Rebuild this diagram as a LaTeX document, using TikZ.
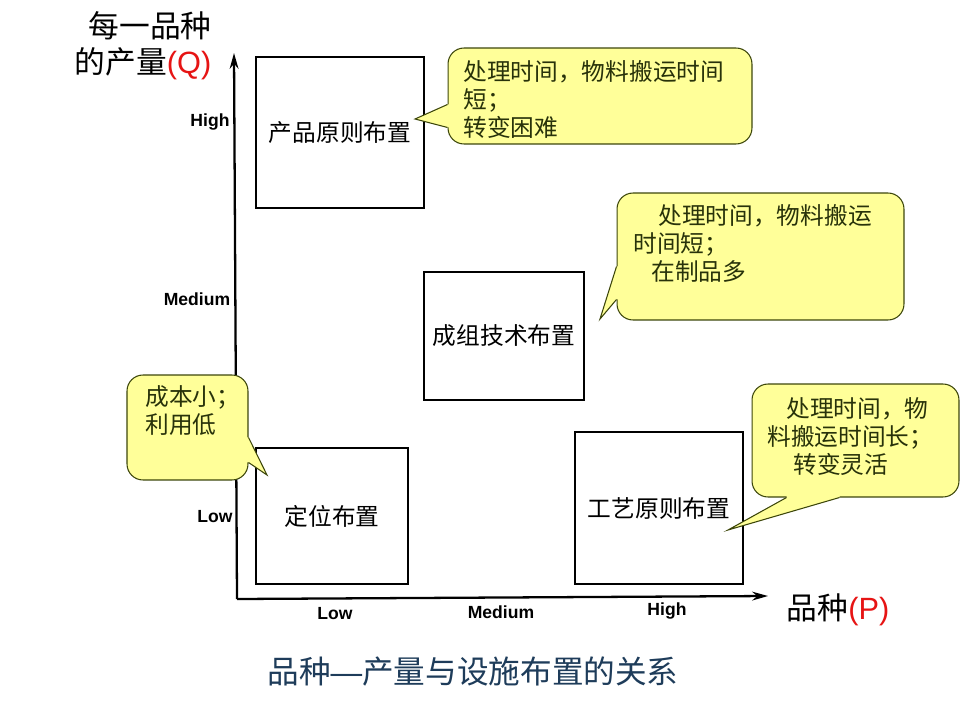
\documentclass[tikz,border=0pt]{standalone}
\usepackage{fontspec}
\setmainfont{Noto Sans CJK SC}
\newfontfamily\latinfont{Liberation Sans}
\usetikzlibrary{arrows.meta,calc}
\definecolor{callfill}{RGB}{255,255,153}
\definecolor{callline}{RGB}{60,70,10}
\definecolor{calltext}{RGB}{40,50,10}
\definecolor{capblue}{RGB}{30,60,90}
\definecolor{axred}{RGB}{230,20,20}
\tikzset{
  layout/.style={draw, fill=white, line width=0.6pt, inner sep=0pt,
    font=\fontsize{13.5}{16}\selectfont},
  callout/.style={draw=callline, fill=callfill, line width=0.6pt,
    rounded corners=0.32cm},
  calltext/.style={align=left, text=calltext, inner sep=0pt,
    font=\fontsize{13.5}{16}\selectfont},
  tick/.style={inner sep=0pt, font=\latinfont\bfseries\fontsize{10}{12}\selectfont},
  axislabel/.style={inner sep=0pt, font=\fontsize{17.5}{20}\selectfont},
  axis/.style={line width=1.3pt, -{Stealth[length=9pt,width=5pt]}},
}
\begin{document}
\begin{tikzpicture}[x=0.02cm, y=-0.02cm]
  \useasboundingbox (0,0) rectangle (960,720);

  \node[axislabel] (qlabel1) at (150,26) {每一品种};
  \node[axislabel] (qlabel2) at (143,64) {的产量{\latinfont\color{axred}(Q)}};
  \node[axislabel] (plabel)  at (838,610) {品种{\latinfont\color{axred}(P)}};

  \coordinate (o)    at (237,599);
  \coordinate (yend) at (234,53);
  \coordinate (xend) at (768,596);
  \draw [axis] (o) -- (yend);
  \draw [axis] (o) -- (xend);

  \node[tick] (yhigh) at (210,122) {High};
  \node[tick] (ymed)  at (197,299) {Medium};
  \node[tick] (ylow)  at (215,517) {Low};
  \node[tick] (xlow)  at (335,614) {Low};
  \node[tick] (xmed)  at (501,612) {Medium};
  \node[tick] (xhigh) at (667,611) {High};

  \node[layout, minimum width=3.36cm, minimum height=3.02cm] (product) at (340,132.5) {产品原则布置};
  \node[layout, minimum width=3.2cm,  minimum height=2.56cm] (group)   at (504,336)   {成组技术布置};
  \node[layout, minimum width=3.04cm, minimum height=2.72cm] (fixed)   at (332,516)   {定位布置};
  \node[layout, minimum width=3.36cm, minimum height=3.04cm] (process) at (659,508)   {工艺原则布置};

  % callouts
  \node[callout, minimum width=6.08cm, minimum height=1.92cm] (c1) at (600,96) {};
  \coordinate (p1) at (415,119);
  \coordinate (a1) at ($(c1.north west)+(0,57)$);
  \coordinate (b1) at ($(c1.north west)+(0,80)$);
  \fill [callfill] (a1) -- (p1) -- (b1) -- ($(b1)+(6,0)$) -- ($(a1)+(6,0)$) -- cycle;
  \draw [callline, line width=0.6pt] (a1) -- (p1) -- (b1);
  \node[calltext, anchor=north west] (t1) at (463,60)
    {处理时间，物料搬运时间\\短；\\转变困难};

  \node[callout, minimum width=5.74cm, minimum height=2.54cm] (c2) at (760.5,256.5) {};
  \coordinate (p2) at (600,319);
  \coordinate (a2) at ($(c2.north west)+(0,74)$);
  \coordinate (b2) at ($(c2.north west)+(0,107)$);
  \fill [callfill] (a2) -- (p2) -- (b2) -- ($(b2)+(6,0)$) -- ($(a2)+(6,0)$) -- cycle;
  \draw [callline, line width=0.6pt] (a2) -- (p2) -- (b2);
  \node[calltext, anchor=north west] (t2) at (633,204)
    {\hspace*{0.5cm}处理时间，物料搬运\\时间短；\\\hspace*{0.36cm}在制品多};

  \node[callout, minimum width=2.42cm, minimum height=2.1cm] (c3) at (187.5,427.5) {};
  \coordinate (p3) at (267,475);
  \coordinate (a3) at ($(c3.north east)+(0,63)$);
  \coordinate (b3) at ($(c3.north east)+(0,88)$);
  \fill [callfill] (a3) -- (p3) -- (b3) -- ($(b3)+(-6,0)$) -- ($(a3)+(-6,0)$) -- cycle;
  \draw [callline, line width=0.6pt] (a3) -- (p3) -- (b3);
  \node[calltext, anchor=north west] (t3) at (145,385) {成本小；\\利用低};

  \node[callout, minimum width=4.14cm, minimum height=2.26cm] (c4) at (855.5,440.5) {};
  \coordinate (p4) at (728,530);
  \coordinate (a4) at ($(c4.south west)+(35,0)$);
  \coordinate (b4) at ($(c4.south west)+(88,0)$);
  \fill [callfill] (a4) -- (p4) -- (b4) -- ($(b4)+(0,-6)$) -- ($(a4)+(0,-6)$) -- cycle;
  \draw [callline, line width=0.6pt] (a4) -- (p4) -- (b4);
  \node[calltext, anchor=north west] (t4) at (767,397)
    {\hspace*{0.38cm}处理时间，物\\料搬运时间长；\\\hspace*{0.52cm}转变灵活};

  \node[font=\fontsize{18}{20}\selectfont, text=capblue] (caption) at (473,672)
    {品种{\latinfont —}产量与设施布置的关系};
\end{tikzpicture}
\end{document}
